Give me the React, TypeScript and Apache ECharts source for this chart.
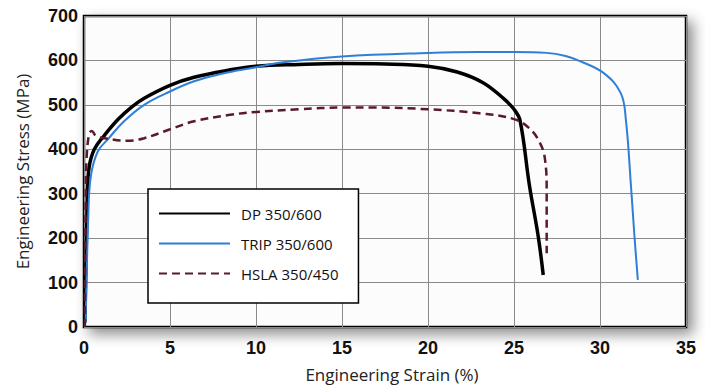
import React, { useEffect, useRef } from "react";
import * as echarts from "echarts";

const xTicks = [0, 5, 10, 15, 20, 25, 30, 35];
const yTicks = [0, 100, 200, 300, 400, 500, 600, 700];

const seriesNames = ["DP 350/600", "TRIP 350/600", "HSLA 350/450"];

const dpData: [number, number][] = [
  [0.05, 10], [0.2, 300], [0.3, 360], [0.6, 400], [1.2, 432], [2, 468], [2.8, 496],
  [3.5, 515], [5, 544], [6.4, 562], [8.4, 578], [10, 587], [12.5, 591], [15, 593],
  [17.5, 592], [20, 587], [21.7, 574], [23.2, 550], [24.4, 514], [25, 490],
  [25.35, 465], [25.9, 318], [26.4, 206], [26.7, 117],
];

const tripData: [number, number][] = [
  [0.1, 10], [0.25, 250], [0.4, 340], [0.8, 395], [1.4, 423], [2.3, 462], [3.5, 500],
  [5, 530], [6.4, 553], [8, 570], [9.9, 584], [11.6, 596], [15, 609], [20, 617],
  [23, 619], [25, 619], [26.9, 617], [28, 610], [28.8, 599], [30.2, 572], [31.2, 527],
  [31.5, 468], [31.8, 318], [32, 206], [32.2, 106],
];

const hslaData: [number, number][] = [
  [0.05, 0], [0.1, 300], [0.15, 380], [0.3, 435], [0.45, 441], [0.7, 430], [1.2, 425],
  [2.5, 419], [3.5, 425], [5, 445], [6.4, 463], [8.4, 477], [10, 484], [12.5, 490],
  [15, 494], [17, 494], [20, 490], [23, 481], [25, 468], [25.9, 447], [26.5, 415],
  [26.8, 378], [26.9, 304], [26.9, 166],
];

export default function App() {
  const ref = useRef<HTMLDivElement>(null);
  useEffect(() => {
    if (!ref.current) return;
    const chart = echarts.init(ref.current, undefined, { renderer: "svg" });
    chart.setOption({
      animation: false,
      backgroundColor: "#ffffff",
      grid: {
        left: 84,
        top: 16,
        right: 19,
        bottom: 59,
        show: true,
        backgroundColor: "#fcfcfc",
        borderColor: "#000000",
        borderWidth: 2.5,
        shadowBlur: 14,
        shadowColor: "rgba(0,0,0,0.45)",
        shadowOffsetX: 6,
        shadowOffsetY: 6,
      },
      legend: {
        left: 148,
        top: 189,
        orient: "vertical",
        data: seriesNames,
        itemWidth: 71,
        itemHeight: 14,
        itemGap: 15,
        padding: [17, 20, 22, 10],
        backgroundColor: "#ffffff",
        borderColor: "#000000",
        borderWidth: 1.5,
        borderRadius: 0,
        itemStyle: { opacity: 0 },
        textStyle: {
          fontFamily: "Open Sans",
          fontSize: 15,
          color: "#111",
          padding: [0, 0, 0, 6],
        },
      },
      xAxis: {
        type: "value",
        min: 0,
        max: 35,
        interval: 5,
        name: "Engineering Strain (%)",
        nameLocation: "middle",
        nameGap: 39,
        nameTextStyle: {
          fontFamily: "Open Sans",
          fontSize: 17,
          color: "#222",
          padding: [0, 0, 0, 14],
        },
        axisLine: { show: false },
        axisTick: { show: false },
        axisLabel: {
          margin: 12,
          fontFamily: "Liberation Sans",
          fontWeight: "bold",
          fontSize: 18,
          color: "#111",
          formatter: (v: number) => (xTicks.includes(v) ? String(v) : ""),
        },
        splitLine: { show: true, lineStyle: { color: "#8a8a8a", width: 1 } },
      },
      yAxis: {
        type: "value",
        min: 0,
        max: 700,
        interval: 100,
        name: "Engineering Stress (MPa)",
        nameLocation: "middle",
        nameGap: 53,
        nameTextStyle: { fontFamily: "Open Sans", fontSize: 17, color: "#222" },
        axisLine: { show: false },
        axisTick: { show: false },
        axisLabel: {
          margin: 6,
          fontFamily: "Liberation Sans",
          fontWeight: "bold",
          fontSize: 18,
          color: "#111",
          formatter: (v: number) => (yTicks.includes(v) ? String(v) : ""),
        },
        splitLine: { show: true, lineStyle: { color: "#8a8a8a", width: 1 } },
      },
      series: [
        {
          name: seriesNames[1],
          type: "line",
          data: tripData,
          smooth: 0.4,
          symbol: "none",
          lineStyle: { color: "#2f7fd8", width: 2 },
          itemStyle: { color: "#2f7fd8" },
          z: 3,
        },
        {
          name: seriesNames[0],
          type: "line",
          data: dpData,
          smooth: 0.4,
          symbol: "none",
          lineStyle: { color: "#000000", width: 3.5 },
          itemStyle: { color: "#000000" },
          z: 2,
        },
        {
          name: seriesNames[2],
          type: "line",
          data: hslaData,
          smooth: 0.4,
          symbol: "none",
          lineStyle: { color: "#5a1a2c", width: 2.5, type: [8, 5] },
          itemStyle: { color: "#5a1a2c" },
          z: 4,
        },
      ],
    });
    return () => chart.dispose();
  }, []);
  return (
    <div
      ref={ref}
      style={{ position: "fixed", left: 0, top: 0, width: 705, height: 388 }}
    />
  );
}
